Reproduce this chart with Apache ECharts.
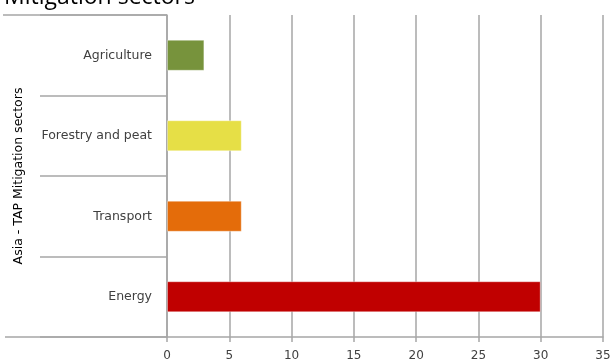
<!DOCTYPE html>
<html>
<head>
<meta charset="utf-8">
<script src="https://cdn.jsdelivr.net/npm/echarts@6/dist/echarts.min.js"></script>
<style>
  html, body { margin: 0; padding: 0; background: #ffffff; }
  #chart { width: 610px; height: 363px; }
</style>
</head>
<body>
<div id="chart"></div>
<script>
// Sectors listed bottom to top, as the category axis draws them
const sectors = ['Energy', 'Transport', 'Forestry and peat', 'Agriculture'];
const sectorValues = [30, 6, 6, 3];
const sectorColors = ['#C00000', '#E46C0A', '#E6DF46', '#77933C'];
const valueTicks = [0, 5, 10, 15, 20, 25, 30, 35];

const gridColor = '#A6A6A6';
const textColor = '#404040';

const chart = echarts.init(document.getElementById('chart'), null, { renderer: 'canvas' });

const gridLeft = 167, gridTop = 15, gridRight = 7, gridBottom = 26;
const plotBottomY = 363 - gridBottom;

chart.setOption({
  animation: false,
  title: {
    text: 'Mitigation sectors',
    left: -1,
    top: -19,
    textStyle: { fontFamily: 'Open Sans', fontSize: 23, fontWeight: 'normal', color: '#000000' }
  },
  grid: {
    left: gridLeft, top: gridTop, right: gridRight, bottom: gridBottom,
    containLabel: false, outerBoundsMode: 'none'
  },
  xAxis: {
    type: 'value',
    min: valueTicks[0],
    max: valueTicks[valueTicks.length - 1],
    interval: 5,
    axisLine: { show: true, lineStyle: { color: gridColor, width: 1.5 } },
    axisTick: { show: true, length: 5, lineStyle: { color: gridColor, width: 1.5 } },
    splitLine: { show: true, lineStyle: { color: gridColor, width: 1.5 } },
    axisLabel: { color: textColor, fontFamily: 'DejaVu Sans', fontSize: 12, margin: 13 }
  },
  yAxis: {
    type: 'category',
    data: sectors,
    boundaryGap: true,
    name: 'Asia - TAP Mitigation sectors',
    nameLocation: 'middle',
    nameGap: 142,
    nameRotate: 90,
    nameTextStyle: { color: '#000000', fontFamily: 'DejaVu Sans', fontSize: 12.5 },
    axisLine: { show: true, lineStyle: { color: gridColor, width: 1.5 } },
    axisTick: { show: true, length: 127, lineStyle: { color: gridColor, width: 1.5 } },
    splitLine: { show: false },
    axisLabel: { color: textColor, fontFamily: 'DejaVu Sans', fontSize: 12.5, margin: 15 }
  },
  series: [{
    type: 'bar',
    barWidth: 31,
    data: sectorValues.map((v, i) => ({ value: v, itemStyle: { color: sectorColors[i] } })),
    itemStyle: { borderColor: 'rgba(255,255,255,0.35)', borderWidth: 1 }
  }],
  graphic: [
    // outer frame lines of the category label area
    { type: 'line', shape: { x1: 3, y1: gridTop, x2: gridLeft, y2: gridTop },
      style: { stroke: gridColor, lineWidth: 1.5 } },
    { type: 'line', shape: { x1: 5, y1: plotBottomY, x2: gridLeft, y2: plotBottomY },
      style: { stroke: gridColor, lineWidth: 1.5 } }
  ]
});
</script>
</body>
</html>
